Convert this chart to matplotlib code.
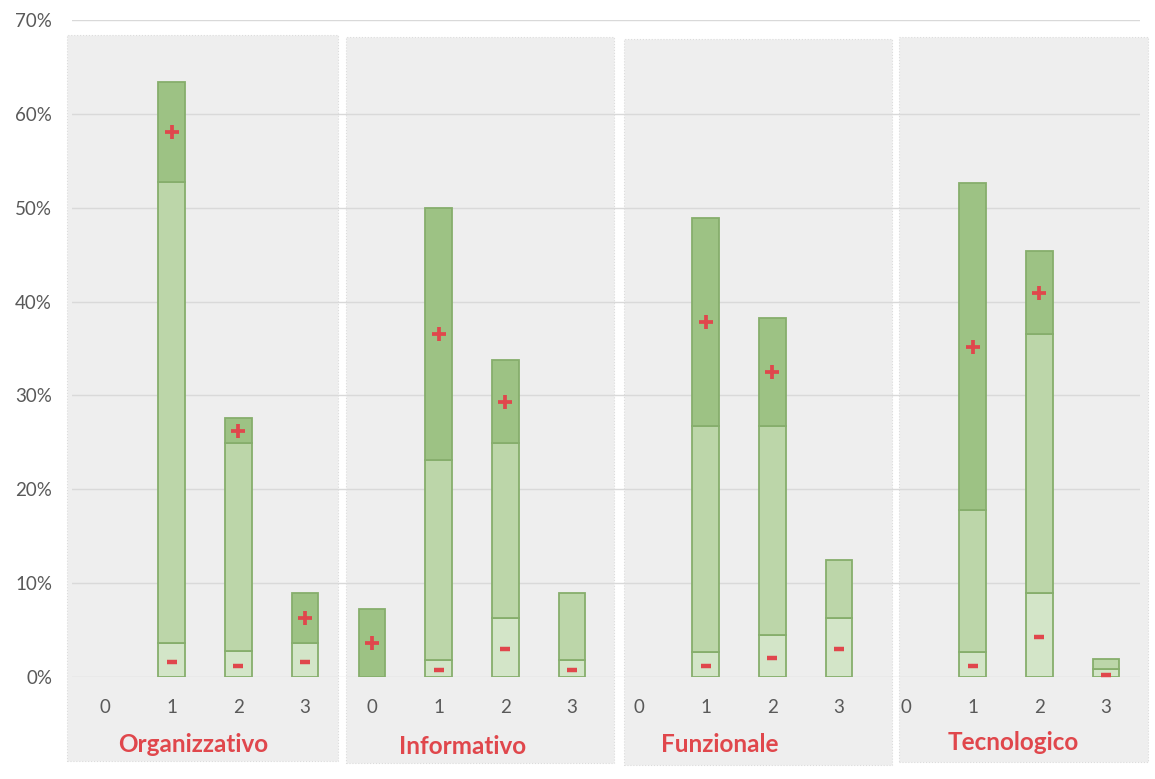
import numpy as np
import matplotlib.pyplot as plt
from matplotlib.patches import Rectangle

# Data (percent): stacked segments per group and level
groups = ['Organizzativo', 'Informativo', 'Funzionale', 'Tecnologico']
levels = ['0', '1', '2', '3']
neg = [[0, 3.6, 2.8, 3.6],
       [0, 1.8, 6.3, 1.8],
       [0, 2.7, 4.5, 6.3],
       [0, 2.7, 8.9, 0.9]]
mid = [[0, 49.1, 22.1, 0],
       [0, 21.3, 18.6, 7.1],
       [0, 24.0, 22.2, 6.2],
       [0, 15.1, 27.6, 1.0]]
pos = [[0, 10.7, 2.7, 5.3],
       [7.2, 26.9, 8.9, 0],
       [0, 22.2, 11.5, 0],
       [0, 34.8, 8.9, 0]]

W, H = 1155, 779
plt.rcParams['font.family'] = ['Lato', 'DejaVu Sans']
fig = plt.figure(figsize=(W / 100, H / 100), dpi=100)

# gray panels behind each group (pixel boxes: left, top, right, bottom)
panels = [(67, 35, 338, 761), (346, 37, 614, 763), (624, 39, 892, 765), (899, 37, 1148, 762)]
for l, t, r, b in panels:
    fig.patches.append(Rectangle((l / W, 1 - b / H), (r - l) / W, (b - t) / H,
                                 transform=fig.transFigure, facecolor='#eeeeee',
                                 edgecolor='#dcdcdc', linestyle=':', linewidth=0.8, zorder=-5))

ax = fig.add_axes([71.5 / W, 1 - 677 / H, (1139.5 - 71.5) / W, (677 - 20) / H])
ax.set_zorder(2)
ax.patch.set_alpha(0)

c_neg, c_mid, c_pos = '#d3e5c8', '#bcd6a9', '#9dc284'
edge = '#86ae6c'
red = '#e0474c'
bw = 0.4

xs, xlabels = [], []
for g in range(len(groups)):
    for k in range(len(levels)):
        x = g * len(levels) + k
        xs.append(x)
        xlabels.append(levels[k])
        n, m, p = neg[g][k], mid[g][k], pos[g][k]
        if n > 0:
            ax.bar(x, n, bw, color=c_neg, edgecolor=edge, linewidth=1.3, zorder=3)
            ax.plot(x, n / 2 - 0.2, marker='_', color=red, markersize=6.5, mew=3.2, zorder=5)
        if m > 0:
            ax.bar(x, m, bw, bottom=n, color=c_mid, edgecolor=edge, linewidth=1.3, zorder=3)
        if p > 0:
            ax.bar(x, p, bw, bottom=n + m, color=c_pos, edgecolor=edge, linewidth=1.3, zorder=3)
            ax.plot(x, n + m + p / 2, marker='+', color=red, markersize=10.5, mew=2.7, zorder=5)

ax.set_xlim(-0.5, len(xs) - 0.5)
ax.set_ylim(0, 70)
ax.set_yticks(np.arange(0, 71, 10))
ax.set_yticklabels([f'{v}%' for v in range(0, 71, 10)])
ax.set_xticks(xs)
ax.set_xticklabels(xlabels)
ax.tick_params(axis='both', length=0, colors='#595959', labelsize=13.5)
ax.tick_params(axis='x', pad=16)
ax.tick_params(axis='y', pad=14)
ax.grid(axis='y', color='#d9d9d9', linewidth=1, zorder=1)
ax.set_axisbelow(True)
for s in ax.spines.values():
    s.set_visible(False)

# group labels under each panel
label_pos = [(193, 745), (463, 747), (720, 744), (1013, 742)]
for name, (px, py) in zip(groups, label_pos):
    fig.text(px / W, 1 - py / H, name, ha='center', va='center', color=red,
             fontsize=17.5, fontweight='bold')

plt.savefig('out.png', dpi=100)
